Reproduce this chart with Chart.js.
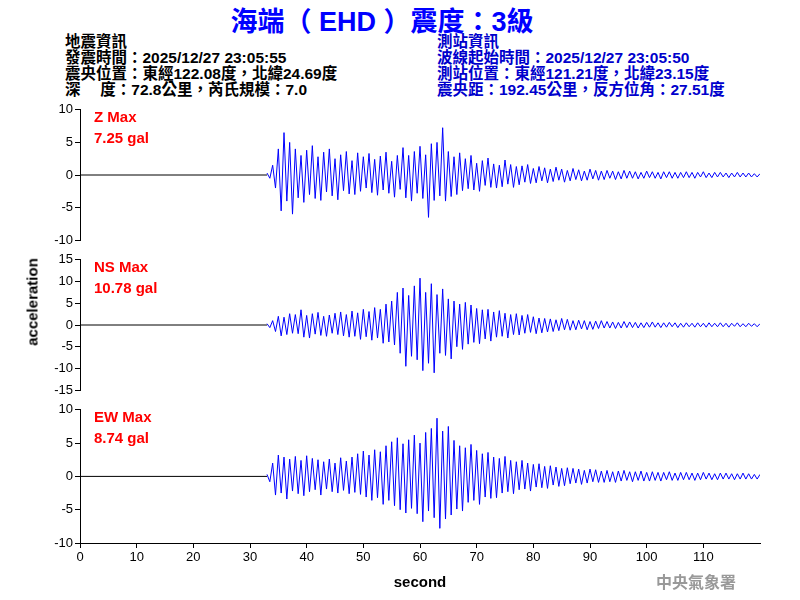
<!DOCTYPE html>
<html><head><meta charset="utf-8">
<script src="https://cdn.jsdelivr.net/npm/chart.js@4/dist/chart.umd.min.js"></script>
<style>
body{margin:0;width:800px;height:600px;background:#fff;position:relative;overflow:hidden;font-family:"Liberation Sans","Noto Sans CJK TC",sans-serif}
canvas{position:absolute;left:0}
.t{position:absolute;white-space:nowrap}
.h{font-size:15.5px;line-height:16px;font-weight:bold}
.m{color:#f00;font-size:15px;font-weight:bold;line-height:21px}
</style></head><body>
<div class="t" style="left:0;width:764px;text-align:center;top:0px;color:#0000ff;font-size:27px;font-weight:bold">海端（ EHD ）震度：3級</div>
<div class="t h" style="left:65px;top:34px;color:#000">地震資訊<br>發震時間：2025/12/27 23:05:55<br>震央位置：東經122.08度，北緯24.69度<br>深　 度：72.8公里，芮氏規模：7.0</div>
<div class="t h" style="left:437px;top:34px;color:#0000cc">測站資訊<br>波線起始時間：2025/12/27 23:05:50<br>測站位置：東經121.21度，北緯23.15度<br>震央距：192.45公里，反方位角：27.51度</div>
<canvas id="c1" width="800" height="150" style="top:100px"></canvas>
<canvas id="c2" width="800" height="150" style="top:250px"></canvas>
<canvas id="c3" width="800" height="200" style="top:400px"></canvas>
<div class="t m" style="left:94px;top:106px">Z Max<br>7.25 gal</div>
<div class="t m" style="left:94px;top:256px">NS Max<br>10.78 gal</div>
<div class="t m" style="left:94px;top:406px">EW Max<br>8.74 gal</div>
<div class="t" style="left:32px;top:302px;transform:translate(-50%,-50%) rotate(-90deg);font-size:15px;font-weight:bold">acceleration</div>
<div class="t" style="left:656px;top:569px;color:#999;font-size:16px;font-weight:bold;font-family:'Noto Sans CJK TC'">中央氣象署</div>
<script>
const startTime = 33, stepSec = 0.5;
const zValues = [0.3,-0.5,1.5,-2,4,-5.5,6.5,-4,5,-6,
4,-3.5,3,-4.2,3.8,-3,4.5,-3.6,2.8,-3.9,
3.5,-2.6,4,-3.2,2.5,-3.8,3.1,-2.4,3.6,-2.9,
2.2,-3,3.4,-2.5,2.8,-2,3.3,-2.7,2.4,-3.1,
2.9,-2.3,3.5,-2.8,2.1,-3.4,3,-2.2,4.2,-3.5,
3,-4,3.6,-2.8,4.4,-3.6,3.1,-6.5,4.8,-3.9,
5,-3.2,7.25,-4,3.6,-3.3,2.8,-3,3.4,-2.4,
2.5,-2.1,3,-2.3,1.8,-2.5,2.2,-1.6,2.6,-1.9,
1.7,-2,1.5,-1.8,2.3,-1.4,1.6,-1.9,1.3,-1.5,
1.4,-1.1,1.6,-1.3,1,-1.2,1.3,-0.9,1.1,-1.2,
0.9,-1,1.2,-0.8,0.9,-1.1,0.7,-0.9,1,-0.7,
0.8,-0.9,0.6,-0.8,0.9,-0.6,0.7,-0.8,0.6,-0.7,
0.7,-0.5,0.6,-0.7,0.5,-0.6,0.7,-0.5,0.6,-0.5,
0.5,-0.6,0.4,-0.5,0.6,-0.4,0.5,-0.5,0.4,-0.6,
0.5,-0.4,0.5,-0.5,0.4,-0.5,0.4,-0.4,0.5,-0.4,
0.4,-0.5,0.4,-0.3,0.5,-0.4,0.3,-0.4,0.4,-0.3,
0.4,-0.3,0.3,-0.4,0.3,-0.3,0.4,-0.3,0.3,-0.3,
0.3,-0.3,0.2,-0.3,0.2];
const nsValues = [0.3,-0.6,1,-1.5,2,-2.5,1.8,-2.2,2.6,-1.9,
2.4,-2,3.5,-2.8,2.2,-3,2.6,-2.1,2.9,-2.4,
2,-2.6,2.3,-1.9,2.7,-2.2,3,-2.5,2.4,-2.8,
3.2,-2.6,2.8,-3.3,3.6,-2.7,3.1,-3.5,4,-3,
3.6,-4.2,4.8,-3.9,5.5,-4.6,7.5,-6.5,8.5,-9.5,
6.8,-7.2,9,-8,10.78,-10.5,7.5,-8.8,9.5,-11,
7,-6.5,8.3,-7,6,-7.8,5.5,-5,4.8,-5.6,
5.2,-4.4,4.6,-4,3.8,-4.3,3.5,-3.2,3.6,-3.7,
3,-2.8,3.3,-2.6,2.7,-3,2.4,-2.2,2.6,-2.3,
2.2,-1.9,2.4,-1.7,1.9,-2,1.6,-1.8,1.5,-1.6,
1.4,-1.5,1.2,-1.3,1.5,-1.1,1.3,-1.2,1,-1.1,
1.1,-0.9,1,-1.1,0.8,-1,0.9,-0.8,1,-0.7,
0.8,-0.7,0.7,-0.8,0.6,-0.7,0.8,-0.6,0.7,-0.6,
0.6,-0.7,0.5,-0.6,0.6,-0.5,0.7,-0.5,0.5,-0.6,
0.5,-0.5,0.6,-0.4,0.5,-0.6,0.4,-0.5,0.5,-0.4,
0.4,-0.5,0.5,-0.4,0.4,-0.5,0.5,-0.4,0.4,-0.4,
0.5,-0.4,0.4,-0.5,0.4,-0.3,0.5,-0.4,0.3,-0.4,
0.4,-0.3,0.3,-0.4,0.3];
const ewValues = [0.3,-0.8,2,-2.8,3.2,-2.5,2.9,-3.4,2.6,-2.2,
3,-2.6,2.4,-2.9,3.1,-2.3,2.7,-2,2.5,-2.8,
2.2,-1.9,2.6,-2.3,2,-2.5,2.8,-2.1,2.3,-2.6,
2.9,-2.4,3.4,-2.7,3.8,-3.1,3.2,-3.6,4,-3.2,
3.7,-4.2,4.6,-3.6,5.2,-4.4,5.8,-5,4.9,-5.5,
5.5,-4.8,6.2,-5.6,5,-6.8,6.6,-5.2,7.2,-6.2,
8.74,-7.8,6.8,-6.4,7.5,-5.8,5.4,-4.9,4.6,-5.2,
4.3,-3.9,4.8,-3.6,3.9,-4.2,3.4,-3.1,3.6,-3.3,
2.9,-3.2,2.7,-2.5,3,-2.3,2.4,-2.6,2.2,-2,
2.4,-1.9,2,-2.2,1.8,-1.6,1.9,-1.7,1.5,-1.8,
1.6,-1.3,1.4,-1.5,1.2,-1.4,1.3,-1.1,1.2,-1,
1.1,-1.2,0.9,-1,1.1,-0.8,1,-0.9,0.8,-0.9,
0.9,-0.8,0.7,-0.9,0.8,-0.7,0.9,-0.6,0.7,-0.8,
0.7,-0.6,0.8,-0.7,0.6,-0.7,0.7,-0.6,0.6,-0.7,
0.6,-0.5,0.7,-0.6,0.5,-0.6,0.6,-0.5,0.6,-0.5,
0.5,-0.6,0.5,-0.5,0.6,-0.4,0.5,-0.5,0.4,-0.5,
0.5,-0.4,0.5,-0.4,0.4,-0.5,0.4,-0.4,0.5,-0.4,
0.4,-0.4,0.3,-0.4,0.3];
const xTicks = [0,10,20,30,40,50,60,70,80,90,100,110];

function mk(id, vals, yr, showX){
  const pts = vals.map((v,i)=>({x:startTime+i*stepSec,y:v}));
  new Chart(document.getElementById(id),{
    type:'line',
    data:{datasets:[
      {data:[{x:0,y:0},{x:startTime,y:0}],borderColor:'#000',borderWidth:1,pointRadius:0},
      {data:pts,borderColor:'#0000ff',borderWidth:1,pointRadius:0,tension:0}
    ]},
    options:{responsive:false,animation:false,
      layout:{padding:{top:8,right:40,left:0,bottom:showX?0:7}},
      plugins:{legend:{display:false},tooltip:{enabled:false}},
      scales:{
        x:{type:'linear',min:0,max:120,display:showX,
          afterFit:s=>{if(showX) s.height=57;},
          afterBuildTicks:s=>{s.ticks=xTicks.map(v=>({value:v}));},
          grid:{drawOnChartArea:false,color:'#000',tickLength:5},
          border:{color:'#000'},
          ticks:{color:'#000',font:{size:13,family:'Liberation Sans'},padding:2,maxRotation:0},
          title:{display:true,text:'second',color:'#000',font:{size:15,weight:'bold',family:'Liberation Sans'},padding:{top:2,bottom:8}}},
        y:{min:-yr,max:yr,
          afterFit:s=>{s.width=80;},
          grid:{drawOnChartArea:false,color:'#000',tickLength:5},
          border:{color:'#000'},
          ticks:{stepSize:5,autoSkip:false,color:'#000',font:{size:13,family:'Liberation Sans'},padding:2}}
      }}
  });
}
mk('c1', zValues, 10, false);
mk('c2', nsValues, 15, false);
mk('c3', ewValues, 10, true);
</script>
</body></html>
